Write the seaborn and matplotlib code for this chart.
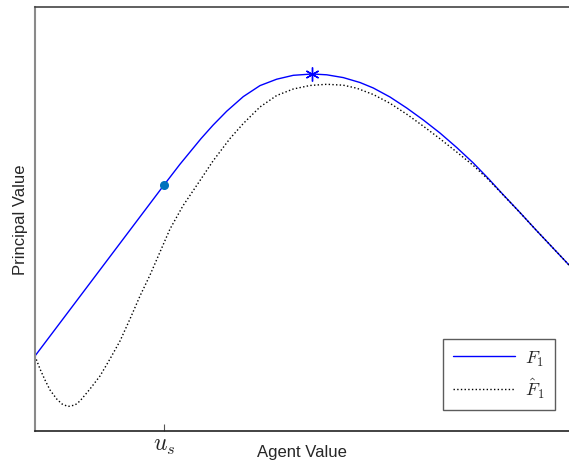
import numpy as np
import pandas as pd
import matplotlib
matplotlib.use("Agg")
import matplotlib.pyplot as plt
import seaborn as sns

# ---- data (normalized agent value / principal value) ----
f1_x = [0.0, 0.2416, 0.2715, 0.3109, 0.3333, 0.3590, 0.3901, 0.4213, 0.4526, 0.4837,
        0.5193, 0.5463, 0.5773, 0.6086, 0.6335, 0.6648, 0.6961, 0.7272, 0.7584, 0.7897,
        0.8208, 0.8489, 0.8764, 0.9082, 0.9382, 0.9700, 1.0]
f1_y = [0.1769, 0.5802, 0.6292, 0.6896, 0.7212, 0.7542, 0.7887, 0.8146, 0.8297, 0.8389,
        0.8420, 0.8401, 0.8335, 0.8219, 0.8090, 0.7877, 0.7618, 0.7335, 0.7028, 0.6686,
        0.6321, 0.5955, 0.5578, 0.5153, 0.4741, 0.4316, 0.3915]

f1hat_x = [0.0, 0.0094, 0.0187, 0.0281, 0.0406, 0.0506, 0.0618, 0.0749, 0.0843, 0.1030,
           0.1217, 0.1404, 0.1592, 0.1779, 0.1966, 0.2154, 0.2341, 0.2528, 0.2772, 0.3090,
           0.3333, 0.3652, 0.3901, 0.4213, 0.4526, 0.4837, 0.5150, 0.5463, 0.5773, 0.6024,
           0.6335, 0.6648, 0.6961, 0.7272, 0.7584, 0.7897, 0.8208, 0.8489, 0.8764, 0.9082,
           0.9382, 0.9700, 1.0]
f1hat_y = [0.1769, 0.1462, 0.1203, 0.0967, 0.0755, 0.0637, 0.0578, 0.0613, 0.0708, 0.0991,
           0.1297, 0.1698, 0.2123, 0.2642, 0.3184, 0.3679, 0.4222, 0.4764, 0.5314, 0.5908,
           0.6368, 0.6899, 0.7252, 0.7642, 0.7913, 0.8066, 0.8149, 0.8177, 0.8156, 0.8085,
           0.7936, 0.7729, 0.7472, 0.7189, 0.6892, 0.6580, 0.6262, 0.5932, 0.5571, 0.5150,
           0.4741, 0.4316, 0.3915]

us_point = (0.2416, 0.5802)
peak_point = (0.5193, 0.8420)
tick_positions = [0.2416]
tick_labels = [r"$u_s$"]

# ---- plot ----
sns.set_style("white")
plt.rcParams["font.family"] = ["Liberation Sans", "DejaVu Sans"]
plt.rcParams["mathtext.fontset"] = "cm"

fig = plt.figure(figsize=(5.69, 4.64), dpi=100)
ax = fig.add_axes([35 / 569, 32 / 464, 534 / 569, 424 / 464])

df1 = pd.DataFrame({"x": f1_x, "y": f1_y})
df2 = pd.DataFrame({"x": f1hat_x, "y": f1hat_y})
sns.lineplot(data=df1, x="x", y="y", ax=ax, color="#0000FF", lw=1.0,
             label=r"$F_1$", sort=False)
sns.lineplot(data=df2, x="x", y="y", ax=ax, color="black", lw=1.0,
             linestyle=":", label=r"$\hat{F}_1$", sort=False)

ax.plot([us_point[0]], [us_point[1]], "o", color="#0072BD", ms=5.5, zorder=5)
ax.plot([peak_point[0]], [peak_point[1]], marker=(6, 2, 0), color="#0000FF",
        ms=10, mew=1.0, linestyle="none", zorder=5)

ax.set_xlim(0, 1)
ax.set_ylim(0, 1)
ax.set_xticks(tick_positions)
ax.set_xticklabels(tick_labels)
ax.set_yticks([])
ax.tick_params(axis="x", bottom=True, direction="in", length=5, width=0.8,
               color="#555555", pad=2, labelsize=17)

ax.set_xlabel("Agent Value", fontsize=12)
ax.xaxis.set_label_coords(0.5, -0.030)
ax.set_ylabel("Principal Value", fontsize=12, labelpad=5)

ax.spines["right"].set_visible(False)
ax.spines["left"].set_color("#8a8a8a")
ax.spines["left"].set_linewidth(1.5)
ax.spines["top"].set_color("#444444")
ax.spines["top"].set_linewidth(1.2)
ax.spines["bottom"].set_color("#222222")
ax.spines["bottom"].set_linewidth(1.2)

leg = ax.legend(loc="lower right", bbox_to_anchor=(0.974, 0.0495), fontsize=13,
                frameon=True, fancybox=False, handlelength=3.4, borderpad=0.55,
                labelspacing=0.45, handletextpad=0.6, borderaxespad=0)
leg.get_frame().set_edgecolor("#333333")
leg.get_frame().set_linewidth(1.0)

fig.savefig("out.png", dpi=100)
